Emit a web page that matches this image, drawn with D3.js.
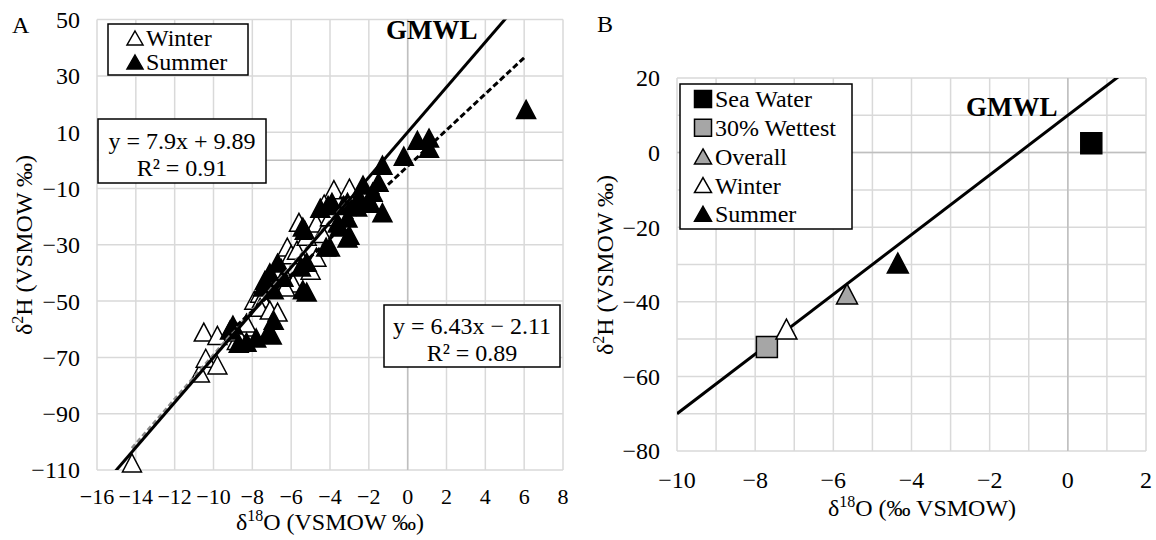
<!DOCTYPE html>
<html>
<head>
<meta charset="utf-8">
<script src="https://cdn.jsdelivr.net/npm/d3@7"></script>
<style>
  body { margin: 0; background: #fff; }
  svg text { font-family: "Liberation Serif", "Times New Roman", serif; fill: #000; }
  .grid line { stroke: #d9d9d9; stroke-width: 1.5; }
  .zero { stroke: #bfbfbf; stroke-width: 1.5; }
  .tick-label { font-size: 24px; }
  .box { fill: #fff; stroke: #000; stroke-width: 1.5; }
</style>
</head>
<body>
<svg id="chart" width="1156" height="540"></svg>
<script>
// ---- panel A data (d18O, d2H) ----
const winterO = [-14.2, -10.7, -10.4, -9.8, -10.5, -9.8, -8.8, -8.3, -8.3, -7.9, -7.6, -7.5, -7.6, -7.1, -6.7,
  -5.9, -5.0, -4.7, -6.2, -6.0, -5.7, -5.6, -4.7, -3.8, -3.0, -4.4, -6.5, -4.3, -5.2, -6.3, -8.8, -4.0];
const winterH = [-107.5, -75.5, -70.3, -72.7, -61.0, -62.2, -64.0, -59.2, -57.8, -49.7, -47.2, -49.0, -52.2, -53.2, -53.9,
  -43.6, -39.0, -34.4, -30.8, -33.5, -31.9, -22.0, -22.3, -10.4, -9.9, -26.0, -38.5, -15.5, -27.0, -45.0, -61.0, -20.0];
const summerO = [6.1, 1.1, 0.5, 1.1, -0.2, -1.3, -1.5, -1.8, -1.3, -1.9, -2.3, -2.5, -3.1, -2.6, -3.0, -3.5, -4.0,
  -4.5, -5.4, -6.7, -7.1, -6.4, -5.2, -5.5, -5.2, -7.45, -6.9, -9.0, -9.15, -8.7, -8.3, -7.8, -7.2, -7.0,
  -4.1, -3.9, -3.3, -3.1, -3.6, -3.1, -4.2, -7.35, -6.9, -5.4, -5.3];
const summerH = [18.1, 7.9, 7.1, 4.3, 1.5, -1.7, -7.8, -11.3, -18.6, -15.2, -8.8, -13.1, -14.9, -16.6, -26.6, -23.7, -30.8,
  -17.0, -23.7, -36.5, -40.0, -41.5, -36.2, -37.9, -46.8, -45.0, -56.8, -58.5, -60.3, -65.0, -64.6, -63.1, -61.4, -62.0,
  -16.0, -14.9, -16.0, -20.5, -22.3, -27.6, -30.8, -42.6, -46.0, -46.0, -24.8];
// trendlines [slope, intercept]
const gmwl = [8, 10];
const winterFit = [7.9, 9.89];
const summerFit = [6.43, -2.11];
const xTicksA = [-16, -14, -12, -10, -8, -6, -4, -2, 0, 2, 4, 6, 8];
const yTicksA = [-110, -90, -70, -50, -30, -10, 10, 30, 50];

// ---- panel B data ----
const bNames = ["Sea Water", "30% Wettest", "Overall", "Winter", "Summer"];
const bO = [0.6, -7.7, -5.65, -7.2, -4.35];
const bH = [2.5, -52.1, -37.9, -47.3, -29.6];
const xTicksB = [-10, -8, -6, -4, -2, 0, 2];
const yTicksB = [-80, -60, -40, -20, 0, 20];

const svg = d3.select("#chart");
const fmt = v => (v < 0 ? "\u2212" + Math.abs(v) : "" + v);

function tri(w, h) {
  return `M0,${-h / 2}L${w / 2},${h / 2}L${-w / 2},${h / 2}Z`;
}

// ================= Panel A =================
const xA = d3.scaleLinear().domain([-16, 8]).range([97, 563]);
const yA = d3.scaleLinear().domain([-110, 50]).range([470, 19.6]);

const gA = svg.append("g");
gA.append("defs").append("clipPath").attr("id", "clipA")
  .append("rect").attr("x", 97).attr("y", 19.6).attr("width", 466).attr("height", 450.4);

const gridA = gA.append("g").attr("class", "grid");
gridA.selectAll(".v").data(xTicksA).join("line")
  .attr("x1", d => xA(d)).attr("x2", d => xA(d)).attr("y1", yA(-110)).attr("y2", yA(50));
gridA.selectAll(".h").data(yTicksA).join("line")
  .attr("y1", d => yA(d)).attr("y2", d => yA(d)).attr("x1", xA(-16)).attr("x2", xA(8));
gA.append("line").attr("class", "zero").attr("x1", xA(0)).attr("x2", xA(0)).attr("y1", yA(-110)).attr("y2", yA(50));
gA.append("line").attr("class", "zero").attr("x1", xA(-16)).attr("x2", xA(8)).attr("y1", yA(0)).attr("y2", yA(0));

gA.selectAll(".xl").data(xTicksA).join("text").attr("class", "tick-label")
  .attr("x", d => xA(d)).attr("y", 504).attr("text-anchor", "middle").style("font-size", "22px").text(fmt);
gA.selectAll(".yl").data(yTicksA).join("text").attr("class", "tick-label")
  .attr("x", 80).attr("y", d => yA(d)).attr("dy", "0.35em").attr("text-anchor", "end").text(fmt);

// markers
const winterPts = winterO.map((o, i) => [o, winterH[i]]);
const summerPts = summerO.map((o, i) => [o, summerH[i]]);
gA.selectAll(".w").data(winterPts).join("path")
  .attr("d", tri(19, 18)).attr("transform", d => `translate(${xA(d[0])},${yA(d[1])})`)
  .attr("fill", "#fff").attr("stroke", "#000").attr("stroke-width", 1.5);
gA.selectAll(".s").data(summerPts).join("path")
  .attr("d", tri(19, 18)).attr("transform", d => `translate(${xA(d[0])},${yA(d[1])})`)
  .attr("fill", "#000").attr("stroke", "#000").attr("stroke-width", 1.5);

// lines
const lineA = d3.line().x(d => xA(d[0])).y(d => yA(d[1]));
const fitPts = (c, x0, x1) => [[x0, c[0] * x0 + c[1]], [x1, c[0] * x1 + c[1]]];
const linesA = gA.append("g").attr("clip-path", "url(#clipA)");
linesA.append("path").attr("d", lineA(fitPts(winterFit, d3.min(winterO), d3.max(winterO))))
  .attr("stroke", "#8c8c8c").attr("stroke-width", 3).attr("stroke-dasharray", "5,3").attr("fill", "none");
linesA.append("path").attr("d", lineA(fitPts(gmwl, -16, 8)))
  .attr("stroke", "#000").attr("stroke-width", 3).attr("fill", "none");
linesA.append("path").attr("d", lineA(fitPts(summerFit, d3.min(summerO), d3.max(summerO))))
  .attr("stroke", "#000").attr("stroke-width", 3).attr("stroke-dasharray", "6,3").attr("fill", "none");

// legend A
gA.append("rect").attr("class", "box").attr("x", 108).attr("y", 24).attr("width", 140).attr("height", 51);
[["Winter", "#fff"], ["Summer", "#000"]].forEach((d, i) => {
  const cy = 38 + i * 24;
  gA.append("path").attr("d", tri(16, 14)).attr("transform", `translate(135,${cy})`)
    .attr("fill", d[1]).attr("stroke", "#000").attr("stroke-width", 1.5);
  gA.append("text").attr("x", 146).attr("y", cy).attr("dy", "0.35em").style("font-size", "24px").text(d[0]);
});

// equation boxes
function eqBox(g, x, y, w, h, l1, l2) {
  g.append("rect").attr("class", "box").attr("x", x).attr("y", y).attr("width", w).attr("height", h);
  g.append("text").attr("x", x + w / 2).attr("y", y + h * 0.33).attr("dy", "0.35em")
    .attr("text-anchor", "middle").style("font-size", "24px").text(l1);
  g.append("text").attr("x", x + w / 2).attr("y", y + h * 0.76).attr("dy", "0.35em")
    .attr("text-anchor", "middle").style("font-size", "24px").text(l2);
}
eqBox(gA, 98, 119, 168, 64, `y = ${winterFit[0]}x + ${winterFit[1]}`, "R\u00b2 = 0.91");
eqBox(gA, 384, 305, 176, 62, `y = ${summerFit[0]}x \u2212 ${Math.abs(summerFit[1])}`, "R\u00b2 = 0.89");

gA.append("text").attr("x", 386).attr("y", 39).style("font-size", "27px").style("font-weight", "bold").text("GMWL");
gA.append("text").attr("x", 12).attr("y", 33).style("font-size", "24px").text("A");

const xtA = gA.append("text").attr("x", 330).attr("y", 530).attr("text-anchor", "middle").style("font-size", "24px");
xtA.append("tspan").text("\u03b4");
xtA.append("tspan").attr("dy", -9).style("font-size", "16px").text("18");
xtA.append("tspan").attr("dy", 9).text("O (VSMOW \u2030)");

const ytA = gA.append("text").attr("transform", "translate(32,245) rotate(-90)").attr("text-anchor", "middle").style("font-size", "24px");
ytA.append("tspan").text("\u03b4");
ytA.append("tspan").attr("dy", -9).style("font-size", "16px").text("2");
ytA.append("tspan").attr("dy", 9).text("H (VSMOW \u2030)");

// ================= Panel B =================
const xB = d3.scaleLinear().domain([-10, 2]).range([677, 1146]);
const yB = d3.scaleLinear().domain([-80, 20]).range([451, 78]);
const gB = svg.append("g");
gB.append("defs").append("clipPath").attr("id", "clipB")
  .append("rect").attr("x", 677).attr("y", 78).attr("width", 469).attr("height", 373);

const gridB = gB.append("g").attr("class", "grid");
gridB.selectAll(".v").data(d3.range(-10, 2.5, 1)).join("line")
  .attr("x1", d => xB(d)).attr("x2", d => xB(d)).attr("y1", yB(-80)).attr("y2", yB(20));
gridB.selectAll(".h").data(d3.range(-80, 25, 10)).join("line")
  .attr("y1", d => yB(d)).attr("y2", d => yB(d)).attr("x1", xB(-10)).attr("x2", xB(2));
gB.append("line").attr("class", "zero").attr("x1", xB(0)).attr("x2", xB(0)).attr("y1", yB(-80)).attr("y2", yB(20));
gB.append("line").attr("class", "zero").attr("x1", xB(-10)).attr("x2", xB(2)).attr("y1", yB(0)).attr("y2", yB(0));

gB.selectAll(".xl").data(xTicksB).join("text").attr("class", "tick-label")
  .attr("x", d => xB(d)).attr("y", 488).attr("text-anchor", "middle").text(fmt);
gB.selectAll(".yl").data(yTicksB).join("text").attr("class", "tick-label")
  .attr("x", 660).attr("y", d => yB(d)).attr("dy", "0.35em").attr("text-anchor", "end").text(fmt);

gB.append("g").attr("clip-path", "url(#clipB)").append("path")
  .attr("d", d3.line().x(d => xB(d[0])).y(d => yB(d[1]))(fitPts(gmwl, -10, 2)))
  .attr("stroke", "#000").attr("stroke-width", 3).attr("fill", "none");

const bStyle = [
  { shape: "sq", fill: "#000" },
  { shape: "sq", fill: "#a6a6a6" },
  { shape: "tri", fill: "#a6a6a6" },
  { shape: "tri", fill: "#fff" },
  { shape: "tri", fill: "#000" }
];
const sq = s => `M${-s / 2},${-s / 2}h${s}v${s}h${-s}Z`;
bNames.forEach((n, i) => {
  gB.append("path").attr("d", bStyle[i].shape === "sq" ? sq(21) : tri(21, 20))
    .attr("transform", `translate(${xB(bO[i])},${yB(bH[i])})`)
    .attr("fill", bStyle[i].fill).attr("stroke", "#000").attr("stroke-width", 1.5);
});

gB.append("rect").attr("class", "box").attr("x", 680).attr("y", 84).attr("width", 172).attr("height", 145);
bNames.forEach((n, i) => {
  const cy = 99 + i * 28.7;
  gB.append("path").attr("d", bStyle[i].shape === "sq" ? sq(17) : tri(17, 15))
    .attr("transform", `translate(703,${cy})`)
    .attr("fill", bStyle[i].fill).attr("stroke", "#000").attr("stroke-width", 1.5);
  gB.append("text").attr("x", 715).attr("y", cy).attr("dy", "0.35em").style("font-size", "24px").text(n);
});

gB.append("text").attr("x", 966).attr("y", 116).style("font-size", "27px").style("font-weight", "bold").text("GMWL");
gB.append("text").attr("x", 597).attr("y", 32).style("font-size", "24px").text("B");

const xtB = gB.append("text").attr("x", 922).attr("y", 516).attr("text-anchor", "middle").style("font-size", "24px");
xtB.append("tspan").text("\u03b4");
xtB.append("tspan").attr("dy", -9).style("font-size", "16px").text("18");
xtB.append("tspan").attr("dy", 9).text("O (\u2030 VSMOW)");

const ytB = gB.append("text").attr("transform", "translate(613,265) rotate(-90)").attr("text-anchor", "middle").style("font-size", "24px");
ytB.append("tspan").text("\u03b4");
ytB.append("tspan").attr("dy", -9).style("font-size", "16px").text("2");
ytB.append("tspan").attr("dy", 9).text("H (VSMOW \u2030)");
</script>
</body>
</html>
